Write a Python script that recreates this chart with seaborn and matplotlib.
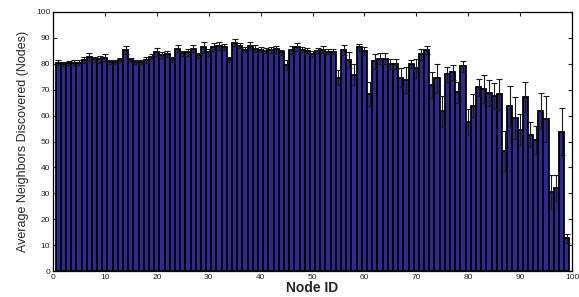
import matplotlib
matplotlib.use("Agg")
import matplotlib.pyplot as plt
import seaborn as sns
import numpy as np
import pandas as pd

node_ids = list(range(1, 100))
avg_neighbors = [
    80.5, 80.0, 80.3, 80.5, 80.5, 81.5, 82.5, 81.8, 81.7, 82.4,
    80.8, 80.8, 81.5, 85.3, 81.4, 80.8, 80.8, 81.5, 82.7, 84.6,
    83.5, 83.7, 81.8, 85.9, 84.0, 84.4, 85.9, 83.3, 86.3, 84.4,
    86.6, 87.0, 86.5, 81.8, 88.2, 87.0, 85.4, 87.0, 85.9, 85.4,
    85.0, 85.4, 85.6, 84.4, 79.5, 85.4, 86.5, 85.4, 85.0, 83.7,
    85.0, 85.4, 84.7, 84.7, 74.7, 85.4, 81.5, 75.8, 86.3, 85.0,
    68.3, 80.9, 82.0, 82.0, 80.0, 80.0, 74.7, 73.7, 80.0, 78.2,
    83.6, 85.3, 71.8, 74.4, 61.7, 75.9, 76.7, 69.0, 79.0, 57.4,
    63.8, 70.9, 70.3, 68.6, 67.4, 68.2, 46.3, 63.6, 59.1, 54.6,
    67.0, 52.6, 50.5, 61.7, 58.7, 30.5, 32.0, 53.8, 12.6,
]
std_err = [
    1.0, 0.8, 0.8, 0.8, 0.8, 1.0, 1.5, 1.0, 1.2, 1.5,
    0.8, 0.8, 0.8, 1.5, 0.8, 0.8, 0.8, 1.0, 1.0, 1.5,
    1.2, 1.2, 1.0, 1.5, 1.0, 1.2, 1.5, 1.0, 2.0, 1.2,
    1.5, 1.5, 1.3, 1.0, 1.5, 1.0, 1.0, 1.3, 1.2, 1.0,
    1.0, 1.2, 1.3, 1.0, 2.0, 1.5, 1.5, 1.0, 1.0, 1.2,
    1.0, 1.3, 1.0, 1.0, 3.0, 2.0, 3.0, 4.0, 1.2, 1.5,
    4.5, 3.0, 2.0, 2.0, 2.0, 2.0, 3.5, 5.0, 1.5, 3.7,
    2.0, 1.4, 5.0, 5.5, 6.0, 3.0, 3.0, 4.0, 2.0, 5.0,
    4.5, 3.2, 5.4, 5.0, 5.0, 6.0, 7.7, 7.7, 8.0, 6.0,
    5.8, 4.8, 5.3, 7.0, 8.7, 6.7, 5.0, 9.2, 1.8,
]
x_ticks = list(range(0, 101, 10))
y_ticks = list(range(0, 101, 10))

df = pd.DataFrame({"node": node_ids, "avg": avg_neighbors, "err": std_err})

sns.set_theme(style="white")
plt.rcParams["font.family"] = ["Liberation Sans", "DejaVu Sans"]

fig = plt.figure(figsize=(5.79, 2.97), dpi=100)
ax = fig.add_axes([53/579, 1 - 271/297, (572-53)/579, (271-12)/297])

sns.barplot(data=df, x="node", y="avg", native_scale=True, width=1.0,
            color="#30288f", saturation=1, edgecolor="black", linewidth=1.3,
            errorbar=None, ax=ax)
ax.errorbar(df["node"], df["avg"], yerr=df["err"], fmt="none",
            ecolor="#1a1a1a", elinewidth=0.8, capsize=2.2, capthick=0.8)

ax.set_xlim(0, 100)
ax.set_ylim(0, 100)
ax.set_xticks(x_ticks)
ax.set_yticks(y_ticks)
ax.tick_params(direction="in", length=3, width=0.8, labelsize=6,
               top=True, right=True, bottom=True, left=True,
               labelcolor="#222222", pad=2)
for s in ax.spines.values():
    s.set_visible(True)
    s.set_color("black")
    s.set_linewidth(0.9)

ax.set_xlabel("Node ID", fontsize=10, fontweight="bold", labelpad=0)
ax.set_ylabel("Average Neighbors Discovered (Nodes)", fontsize=9, labelpad=5)

fig.savefig("out.png", dpi=100, facecolor="white")
